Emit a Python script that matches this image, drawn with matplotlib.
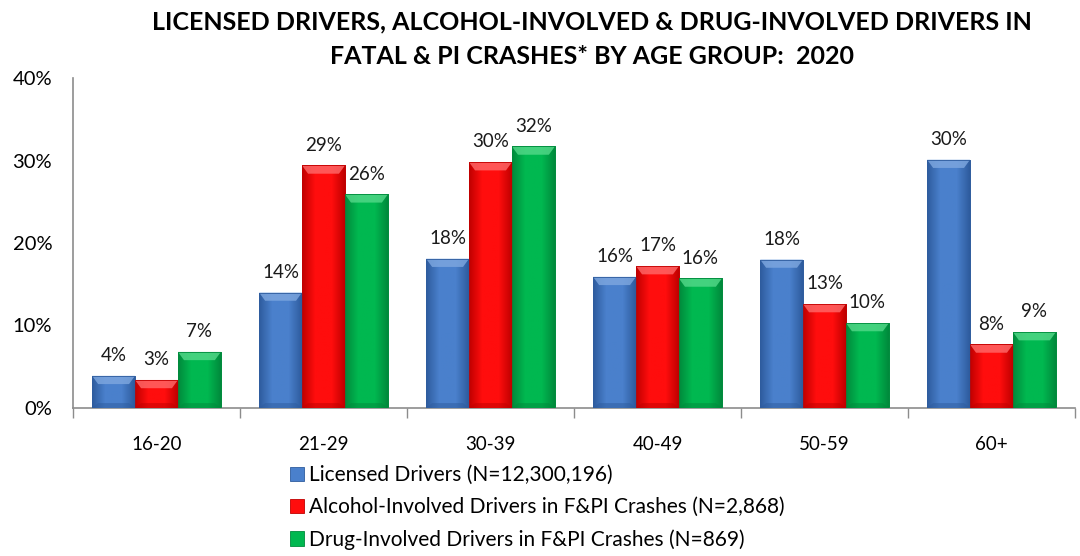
import matplotlib
matplotlib.use('Agg')
import matplotlib.pyplot as plt
import numpy as np
from matplotlib.colors import to_rgb
from matplotlib.patches import Polygon, Patch

plt.rcParams['font.family'] = ['Lato', 'DejaVu Sans']

age_groups = ['16-20', '21-29', '30-39', '40-49', '50-59', '60+']
licensed = [3.9, 14.0, 18.1, 15.9, 18.0, 30.1]
alcohol = [3.4, 29.4, 29.8, 17.2, 12.6, 7.7]
drug = [6.8, 25.9, 31.7, 15.7, 10.3, 9.2]

series_names = ['Licensed Drivers (N=12,300,196)',
                'Alcohol-Involved Drivers in F&PI Crashes (N=2,868)',
                'Drug-Involved Drivers in F&PI Crashes (N=869)']
# (edge, centre, top bevel) colours for each series
palettes = [('#2E5C9E', '#4A80CC', '#7FA8E0'),
            ('#C00000', '#FF0D0D', '#FF6B6B'),
            ('#008A3C', '#00B850', '#55D98A')]

fig = plt.figure(figsize=(10.8, 5.56), dpi=100)
ax = fig.add_axes([73 / 1080, 148 / 556, 1002 / 1080, 330 / 556])

x = np.arange(len(age_groups))
width = 0.257
bevel = 1.0  # top bevel height in data units


def shaded_bars(values, offset, colors):
    edge, mid, light = colors
    row = np.array([to_rgb(edge), to_rgb(mid), to_rgb(mid), to_rgb(edge)])
    pos = np.linspace(0, 1, 40)
    grad = np.stack([np.interp(pos, [0, 0.3, 0.7, 1], row[:, k]) for k in range(3)], axis=-1)[None]
    bars = ax.bar(x + offset, values, width, color=mid, edgecolor=edge, linewidth=0.6, zorder=2)
    for b in bars:
        x0, w, h = b.get_x(), b.get_width(), b.get_height()
        im = ax.imshow(grad, extent=[x0, x0 + w, 0, h], aspect='auto', zorder=3)
        im.set_clip_path(b)
        bv = min(bevel, h * 0.3)
        inset = w * 0.14
        ax.add_patch(Polygon([[x0, h], [x0 + w, h], [x0 + w - inset, h - bv], [x0 + inset, h - bv]],
                             closed=True, facecolor=light, edgecolor='none', alpha=0.8, zorder=4))
        ax.add_patch(Polygon([[x0, 0], [x0 + w, 0], [x0 + w - inset, bv * 0.6], [x0 + inset, bv * 0.6]],
                             closed=True, facecolor=edge, edgecolor='none', alpha=0.5, zorder=4))
        ax.add_patch(plt.Rectangle((x0, 0), w, h, fill=False, edgecolor=edge, linewidth=0.6, zorder=5))
        ax.annotate('{:.0f}%'.format(h), (x0 + w / 2, h), xytext=(0, 8.5), textcoords='offset points',
                    ha='center', va='bottom', fontsize=13.5, color='#1a1a1a')
    return bars


for i, vals in enumerate([licensed, alcohol, drug]):
    shaded_bars(vals, (i - 1) * width, palettes[i])

ax.set_xlim(-0.5, len(age_groups) - 0.5)
ax.set_ylim(0, 40)
ax.set_yticks([0, 10, 20, 30, 40])
ax.set_yticklabels(['{}%'.format(v) for v in [0, 10, 20, 30, 40]], fontsize=14.5)
ax.tick_params(axis='y', length=0, pad=15)

ax.set_xticks(x)
ax.set_xticklabels(age_groups, fontsize=13.5)
ax.tick_params(axis='x', length=0, pad=20)
ax.set_xticks(np.arange(-0.5, len(age_groups)), minor=True)
ax.tick_params(axis='x', which='minor', length=7, color='#8c8c8c', width=1)

for side in ['top', 'right']:
    ax.spines[side].set_visible(False)
for side in ['left', 'bottom']:
    ax.spines[side].set_color('#8c8c8c')
    ax.spines[side].set_linewidth(1.2)

fig.text(592 / 1080, 1 - 22 / 556, 'LICENSED DRIVERS, ALCOHOL-INVOLVED & DRUG-INVOLVED DRIVERS IN',
         ha='center', va='center', fontsize=18, fontweight='bold')
fig.text(592 / 1080, 1 - 56 / 556, 'FATAL & PI CRASHES* BY AGE GROUP:  2020',
         ha='center', va='center', fontsize=18, fontweight='bold')

handles = [Patch(facecolor=p[1], edgecolor=p[0], linewidth=0.6) for p in palettes]
fig.legend(handles, series_names, loc='upper left', bbox_to_anchor=(290 / 1080, 1 - 465 / 556),
           frameon=False, fontsize=15, handlelength=0.68, handleheight=0.68, handletextpad=0.25,
           labelspacing=0.58, borderpad=0, borderaxespad=0)

fig.savefig('out.png', dpi=100, facecolor='white')
